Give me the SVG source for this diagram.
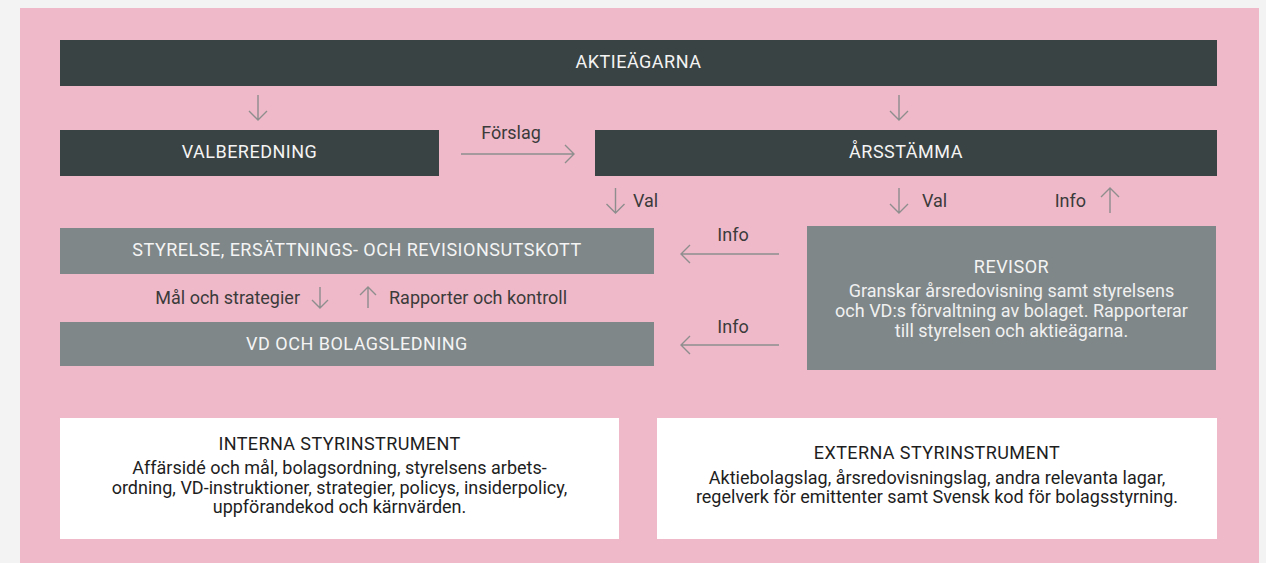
<svg xmlns="http://www.w3.org/2000/svg" width="1266" height="563" viewBox="0 0 1266 563">
<defs>
<style>
.dark{fill:#3a4343}
.grey{fill:#7f8789}
.white{fill:#ffffff}
.t{font-family:Roboto,"Liberation Sans",sans-serif;text-anchor:middle}
.cap{font-size:18px;letter-spacing:0.5px;fill:#f4f4f4}
.body{font-size:18px;fill:#f0f0f0}
.lbl{font-size:18px;fill:#3b3b3b;font-family:Roboto,"Liberation Sans",sans-serif}
.hd{font-size:18px;letter-spacing:0.4px;fill:#1e1e1e}
.bd{font-size:18px;fill:#1e1e1e}
.arr{fill:none;stroke:#8e8e8e;stroke-width:1.4}
</style>
</defs>
<rect x="0" y="0" width="1266" height="563" fill="#f3f3f3"/>
<rect x="20" y="8" width="1239" height="555" fill="#efb9c9"/>

<g id="aktieagarna">
<rect class="dark" x="60" y="40" width="1157" height="46"/>
<text class="t cap" x="638.5" y="68">AKTIEÄGARNA</text>
</g>
<g id="valberedning">
<rect class="dark" x="60" y="130" width="379" height="46"/>
<text class="t cap" x="249.5" y="158">VALBEREDNING</text>
</g>
<g id="arsstamma">
<rect class="dark" x="595" y="130" width="622" height="46"/>
<text class="t cap" x="906" y="158">ÅRSSTÄMMA</text>
</g>
<g id="styrelse">
<rect class="grey" x="60" y="228" width="594" height="46"/>
<text class="t cap" x="357" y="256">STYRELSE, ERSÄTTNINGS- OCH REVISIONSUTSKOTT</text>
</g>
<g id="vd">
<rect class="grey" x="60" y="322" width="594" height="44"/>
<text class="t cap" x="357" y="350">VD OCH BOLAGSLEDNING</text>
</g>
<g id="revisor">
<rect class="grey" x="807" y="226" width="409" height="144"/>
<text class="t cap" x="1011.5" y="273">REVISOR</text>
<text class="t body" x="1011.5" y="297">Granskar årsredovisning samt styrelsens</text>
<text class="t body" x="1011.5" y="317">och VD:s förvaltning av bolaget. Rapporterar</text>
<text class="t body" x="1011.5" y="337">till styrelsen och aktieägarna.</text>
</g>
<g id="interna">
<rect class="white" x="60" y="418" width="559" height="121"/>
<text class="t hd" x="339.5" y="450">INTERNA STYRINSTRUMENT</text>
<text class="t bd" x="339.5" y="474">Affärsidé och mål, bolagsordning, styrelsens arbets-</text>
<text class="t bd" x="339.5" y="494">ordning, VD-instruktioner, strategier, policys, insiderpolicy,</text>
<text class="t bd" x="339.5" y="513">uppförandekod och kärnvärden.</text>
</g>
<g id="externa">
<rect class="white" x="657" y="418" width="560" height="121"/>
<text class="t hd" x="937" y="459">EXTERNA STYRINSTRUMENT</text>
<text class="t bd" x="937" y="484">Aktiebolagslag, årsredovisningslag, andra relevanta lagar,</text>
<text class="t bd" x="937" y="503">regelverk för emittenter samt Svensk kod för bolagsstyrning.</text>
</g>

<g id="connectors">
<path class="arr" d="M258 95V120M249 111L258 120L267 111"/>
<path class="arr" d="M899 95V120M890 111L899 120L908 111"/>
<path class="arr" d="M461 154H574M565 145L574 154L565 163"/>
<text class="lbl" x="511" y="139" text-anchor="middle">Förslag</text>
<path class="arr" d="M615.5 188V213M606.5 204L615.5 213L624.5 204"/>
<text class="lbl" x="633" y="207">Val</text>
<path class="arr" d="M899 188V213M890 204L899 213L908 204"/>
<text class="lbl" x="922" y="207">Val</text>
<path class="arr" d="M1110 213V188M1101 197L1110 188L1119 197"/>
<text class="lbl" x="1086" y="207" text-anchor="end">Info</text>
<path class="arr" d="M779 254H681M690 245L681 254L690 263"/>
<text class="lbl" x="733" y="241" text-anchor="middle">Info</text>
<path class="arr" d="M779 345H681M690 336L681 345L690 354"/>
<text class="lbl" x="733" y="333" text-anchor="middle">Info</text>
<path class="arr" d="M320 287V308M312 300L320 308L328 300"/>
<text class="lbl" x="300" y="304" text-anchor="end">Mål och strategier</text>
<path class="arr" d="M368 308V287M360 295L368 287L376 295"/>
<text class="lbl" x="389" y="304">Rapporter och kontroll</text>
</g>
</svg>
